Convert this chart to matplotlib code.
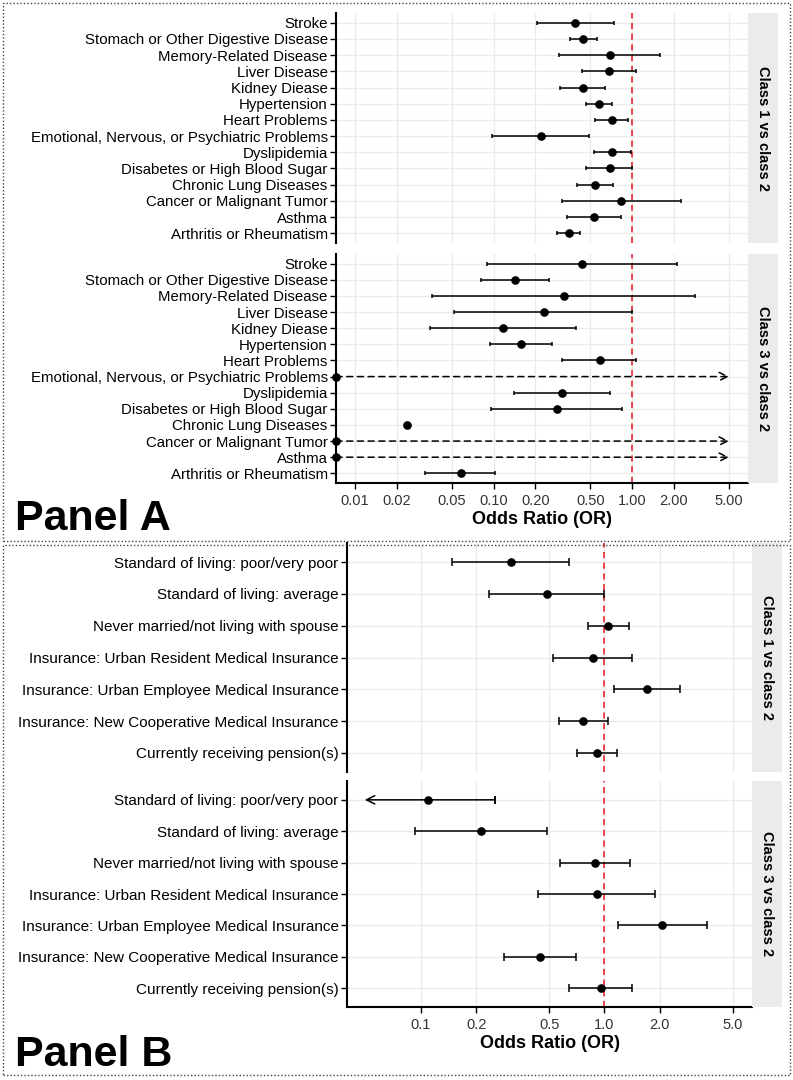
import numpy as np
import matplotlib
matplotlib.use("Agg")
import matplotlib.pyplot as plt
from matplotlib.patches import Rectangle
from matplotlib.ticker import FixedLocator, NullLocator

plt.rcParams['font.family'] = ['Liberation Sans', 'DejaVu Sans']

# ---- Panel A: chronic conditions ----
diseases = ["Stroke", "Stomach or Other Digestive Disease", "Memory-Related Disease",
            "Liver Disease", "Kidney Diease", "Hypertension", "Heart Problems",
            "Emotional, Nervous, or Psychiatric Problems", "Dyslipidemia",
            "Disabetes or High Blood Sugar", "Chronic Lung Diseases",
            "Cancer or Malignant Tumor", "Asthma", "Arthritis or Rheumatism"]

a1_or = [0.388, 0.441, 0.694, 0.679, 0.441, 0.575, 0.714, 0.219, 0.714, 0.687, 0.538, 0.829, 0.529, 0.348]
a1_lo = [0.205, 0.353, 0.294, 0.434, 0.299, 0.461, 0.541, 0.098, 0.527, 0.466, 0.399, 0.309, 0.340, 0.285]
a1_hi = [0.741, 0.553, 1.59, 1.06, 0.639, 0.714, 0.936, 0.489, 0.974, 0.998, 0.722, 2.25, 0.824, 0.422]

# 1e-6 / inf = estimate collapsed to ~0 with an unbounded interval
a2_or = [0.434, 0.143, 0.323, 0.230, 0.117, 0.157, 0.582, 1e-6, 0.313, 0.286, 0.0237, 1e-6, 1e-6, 0.0581]
a2_lo = [0.089, 0.081, 0.0357, 0.0515, 0.0347, 0.0945, 0.313, np.nan, 0.141, 0.0961, np.nan, np.nan, np.nan, 0.0319]
a2_hi = [2.11, 0.251, 2.85, 1.00, 0.392, 0.263, 1.07, np.inf, 0.687, 0.843, np.nan, np.inf, np.inf, 0.103]

a_ticks = [0.01, 0.02, 0.05, 0.1, 0.2, 0.5, 1, 2, 5]
a_ticklabels = ["0.01", "0.02", "0.05", "0.10", "0.20", "0.50", "1.00", "2.00", "5.00"]

# ---- Panel B: socioeconomic factors ----
factors = ["Standard of living: poor/very poor", "Standard of living: average",
           "Never married/not living with spouse",
           "Insurance: Urban Resident Medical Insurance",
           "Insurance: Urban Employee Medical Insurance",
           "Insurance: New Cooperative Medical Insurance",
           "Currently receiving pension(s)"]

b1_or = [0.308, 0.485, 1.05, 0.865, 1.71, 0.768, 0.916]
b1_lo = [0.148, 0.234, 0.811, 0.525, 1.13, 0.564, 0.712]
b1_hi = [0.640, 0.996, 1.36, 1.42, 2.58, 1.04, 1.17]

b2_or = [0.110, 0.213, 0.889, 0.912, 2.07, 0.446, 0.955]
b2_lo = [0.03, 0.0927, 0.573, 0.436, 1.19, 0.283, 0.640]
b2_hi = [0.254, 0.489, 1.38, 1.88, 3.62, 0.703, 1.42]

b_ticks = [0.1, 0.2, 0.5, 1, 2, 5]
b_ticklabels = ["0.1", "0.2", "0.5", "1.0", "2.0", "5.0"]

W, H = 793, 1080
fig = plt.figure(figsize=(W / 100, H / 100), dpi=100)


def px_axes(x0, y0, x1, y1):
    return fig.add_axes([x0 / W, 1 - y1 / H, (x1 - x0) / W, (y1 - y0) / H])


def forest(ax, labels, ors, los, his, xlim, ticks, ticklabels, strip, bottom,
           cap_hi=5.0, cap_lo=0.0495, capsize=2, fs=10.5):
    n = len(labels)
    y = np.arange(1, n + 1)
    ax.set_xscale('log')
    ax.set_xlim(*xlim)
    ax.set_ylim(n + 0.6, 0.4)
    for yi in y:
        ax.axhline(yi, color='#ebebeb', lw=1, zorder=0)
    for t in ticks:
        ax.axvline(t, color='#ebebeb', lw=1, zorder=0)
    ax.axvline(1, color='#e8141c', lw=1.1, ls=(0, (4, 3)), zorder=1)
    for yi, o, lo, hi in zip(y, ors, los, his):
        o_draw = max(o, xlim[0])
        if np.isinf(hi):
            ax.annotate('', xy=(cap_hi, yi), xytext=(o_draw, yi),
                        arrowprops=dict(arrowstyle='->', ls=(0, (4, 3)), lw=1.1,
                                        color='black', mutation_scale=15,
                                        shrinkA=0, shrinkB=0), zorder=3)
        elif not np.isnan(lo):
            if lo < xlim[0]:
                # lower limit falls off the axis: arrow instead of cap
                ax.annotate('', xy=(cap_lo, yi), xytext=(hi, yi),
                            arrowprops=dict(arrowstyle='->', lw=1.1, color='black',
                                            mutation_scale=15, shrinkA=0, shrinkB=0),
                            zorder=3)
                ax.errorbar(hi, yi, xerr=[[0], [0]], fmt='none', ecolor='black',
                            elinewidth=1.1, capsize=capsize, capthick=1.1, zorder=3)
            else:
                ax.errorbar(o, yi, xerr=[[o - lo], [hi - o]], fmt='none',
                            ecolor='black', elinewidth=1.1, capsize=capsize,
                            capthick=1.1, zorder=3)
        ax.plot(o_draw, yi, 'o', color='black', ms=5.2, zorder=4, clip_on=False)
    ax.set_yticks(y)
    ax.set_yticklabels(labels, fontsize=fs, color='black')
    ax.yaxis.set_minor_locator(NullLocator())
    ax.xaxis.set_major_locator(FixedLocator(ticks))
    ax.xaxis.set_minor_locator(NullLocator())
    ax.tick_params(axis='y', length=4, width=1, pad=2)
    for s in ['top', 'right']:
        ax.spines[s].set_visible(False)
    ax.spines['left'].set_linewidth(1.5)
    if bottom:
        ax.set_xticklabels(ticklabels, fontsize=10.5, color='#333333')
        ax.tick_params(axis='x', length=4, width=1, pad=4)
        ax.spines['bottom'].set_linewidth(1.5)
        ax.set_xlabel('Odds Ratio (OR)', fontsize=13, fontweight='bold', labelpad=2)
    else:
        ax.set_xticklabels([])
        ax.tick_params(axis='x', length=0)
        ax.spines['bottom'].set_visible(False)
    # facet strip on the right
    sx = ax.inset_axes([1.0, 0.0, 30 / ax.get_position().width / W, 1.0])
    sx.set_facecolor('#ebebeb')
    sx.set_xticks([])
    sx.set_yticks([])
    for s in sx.spines.values():
        s.set_visible(False)
    sx.text(0.5, 0.5, strip, rotation=-90, ha='center', va='center',
            fontsize=10.5, fontweight='bold', transform=sx.transAxes)


lim_a = (0.0073, 6.84)
lim_b = (0.0396, 6.37)

ax = px_axes(336, 13, 748, 243)
forest(ax, diseases, a1_or, a1_lo, a1_hi, lim_a, a_ticks, a_ticklabels,
       'Class 1 vs class 2', False, capsize=1.5, fs=10.8)
ax = px_axes(336, 254, 748, 483)
forest(ax, diseases, a2_or, a2_lo, a2_hi, lim_a, a_ticks, a_ticklabels,
       'Class 3 vs class 2', True, capsize=1.5, fs=10.8)
ax = px_axes(347, 543, 752, 772)
forest(ax, factors, b1_or, b1_lo, b1_hi, lim_b, b_ticks, b_ticklabels,
       'Class 1 vs class 2', False, capsize=3, fs=11)
ax = px_axes(347, 781, 752, 1007)
forest(ax, factors, b2_or, b2_lo, b2_hi, lim_b, b_ticks, b_ticklabels,
       'Class 3 vs class 2', True, capsize=3, fs=11)

fig.text(15 / W, 1 - 530 / H, 'Panel A', fontsize=31, fontweight='bold', va='baseline')
fig.text(15 / W, 1 - 1066 / H, 'Panel B', fontsize=31, fontweight='bold', va='baseline')

for (x0, y0, x1, y1) in [(3, 3, 790, 541), (3, 545, 790, 1075)]:
    fig.patches.append(Rectangle((x0 / W, 1 - y1 / H), (x1 - x0) / W, (y1 - y0) / H,
                                 transform=fig.transFigure, fill=False,
                                 ls=(0, (1, 1.5)), lw=1, ec='#444444'))

fig.savefig('out.png', dpi=100)
